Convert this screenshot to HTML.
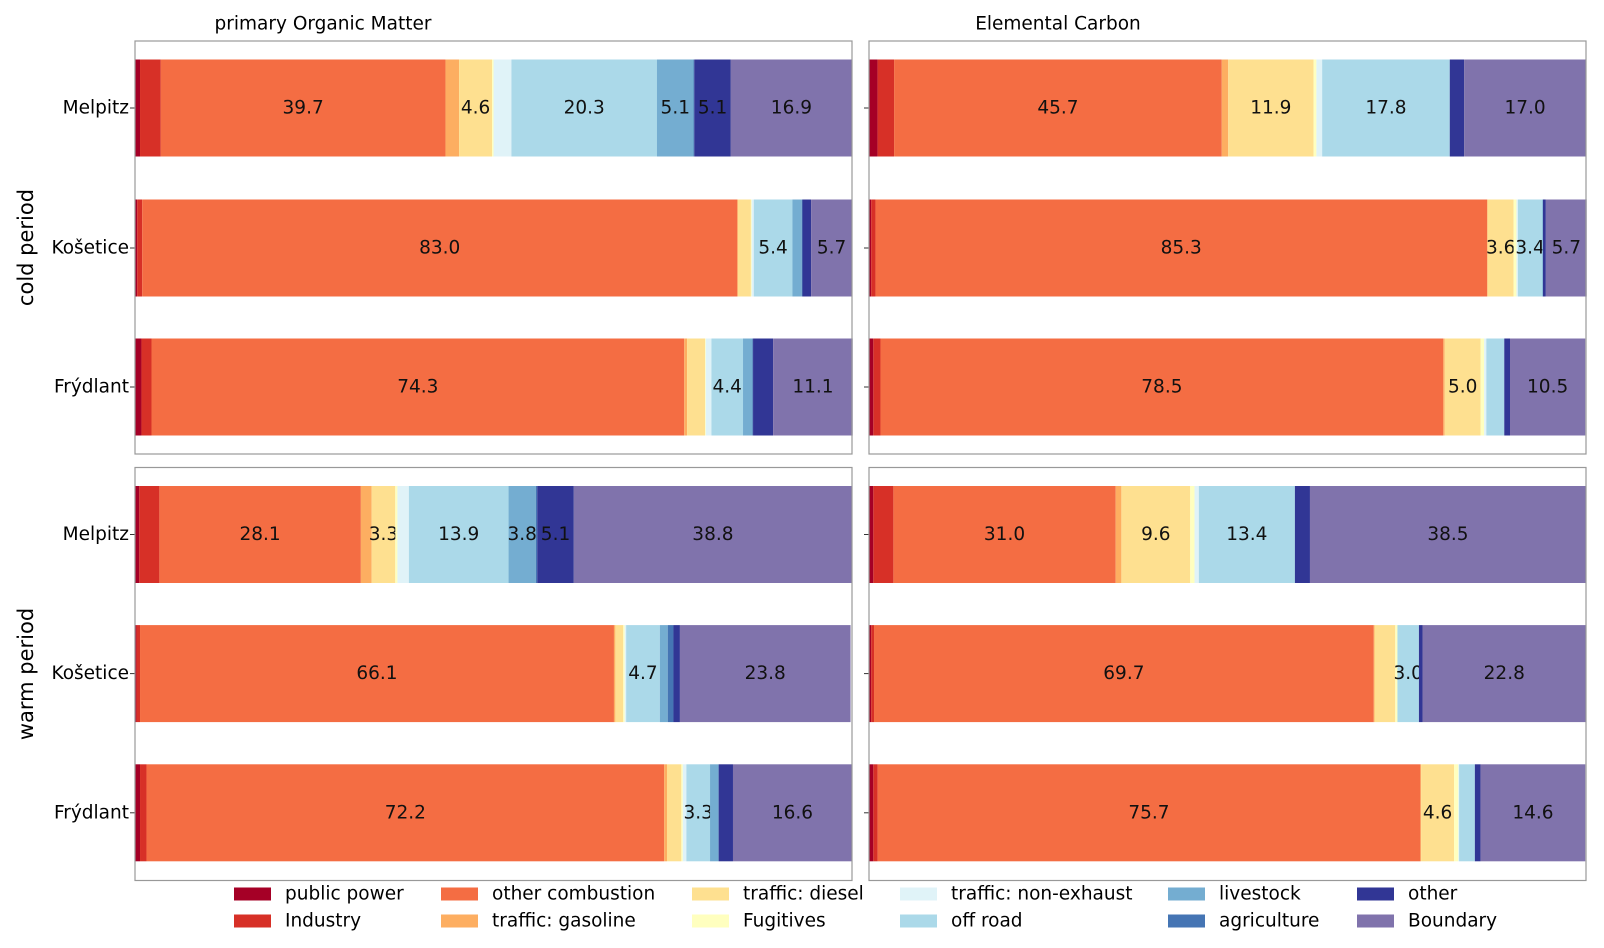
<!DOCTYPE html>
<html><head><meta charset="utf-8"><style>
html,body{margin:0;padding:0;background:#fff;}
svg{display:block;font-family:"DejaVu Sans","Liberation Sans",sans-serif;}
</style></head><body>
<svg id="chart" width="1604" height="948" viewBox="0 0 1604 948" xmlns="http://www.w3.org/2000/svg"></svg>
<script>
const sources = ["public power","Industry","other combustion","traffic: gasoline","traffic: diesel","Fugitives","traffic: non-exhaust","off road","livestock","agriculture","other","Boundary"];
const colors = ["#a50026","#d73027","#f46d43","#fdae61","#fee090","#ffffbf","#e0f3f8","#abd9e9","#74add1","#4575b4","#313695","#8073ac"];
const sites = ["Melpitz","Košetice","Frýdlant"];
const periods = ["cold period","warm period"];
const species = ["primary Organic Matter","Elemental Carbon"];
const coldOM = [
 [0.7,2.9,39.7,1.9,4.6,0.2,2.5,20.3,5.1,0.1,5.1,16.9],
 [0.3,0.7,83.0,0.1,1.8,0.1,0.3,5.4,1.3,0.1,1.2,5.7],
 [0.9,1.4,74.3,0.4,2.5,0.1,0.8,4.4,1.3,0.1,2.8,11.1]];
const coldEC = [
 [1.2,2.3,45.7,0.9,11.9,0.4,0.8,17.8,0.0,0.0,2.0,17.0],
 [0.3,0.6,85.3,0.1,3.6,0.4,0.2,3.4,0.1,0.0,0.4,5.7],
 [0.6,1.0,78.5,0.2,5.0,0.5,0.3,2.5,0.0,0.0,0.8,10.5]];
const warmOM = [
 [0.6,2.8,28.1,1.5,3.3,0.3,1.6,13.9,3.8,0.2,5.1,38.8],
 [0.2,0.5,66.1,0.2,1.1,0.2,0.2,4.7,1.1,0.8,0.9,23.8],
 [0.7,0.9,72.2,0.4,2.0,0.2,0.5,3.3,1.2,0.0,2.0,16.6]];
const warmEC = [
 [0.6,2.8,31.0,0.8,9.6,0.6,0.6,13.4,0.0,0.0,2.1,38.5],
 [0.3,0.4,69.7,0.1,2.9,0.3,0.0,3.0,0.0,0.0,0.5,22.8],
 [0.6,0.6,75.7,0.1,4.6,0.6,0.1,2.2,0.0,0.0,0.8,14.6]];
const panelData = [[coldOM,coldEC],[warmOM,warmEC]];

const NS="http://www.w3.org/2000/svg";
const svg=document.getElementById('chart');
function mk(tag,attrs,parent){const e=document.createElementNS(NS,tag);for(const k in attrs)e.setAttribute(k,attrs[k]);(parent||svg).appendChild(e);return e;}
const panelX=[135,869], panelW=717;
const panelY=[41,467.5], panelH=413;
const barCenters=[[108,248,387],[534.5,673.6,812.8]];
const barH=97;
function xScale(col,v){return panelX[col]+v/100*panelW;}

for(let r=0;r<2;r++){
  const t=mk('text',{x:27,y:(panelY[r]+panelH/2),'font-size':21,'text-anchor':'middle','dominant-baseline':'middle',transform:`rotate(-90 27 ${panelY[r]+panelH/2})`,fill:'#000'});
  
  
  t.textContent=periods[r];
  for(let c=0;c<2;c++){
    const g=mk('g',{});
    
    
    for(let s=0;s<3;s++){
      const vals=panelData[r][c][s];
      let cum=0;
      const cy=barCenters[r][s];
      for(let k=0;k<vals.length;k++){
        const x0=xScale(c,cum), x1=xScale(c,cum+vals[k]);
        const rect=mk('rect',{x:x0,y:cy-barH/2,width:Math.max(0,x1-x0),height:barH,fill:colors[k]},g);
        
        
        if(vals[k]>=3){
          const lt=mk('text',{x:(x0+x1)/2,y:cy,'font-size':18.5,'text-anchor':'middle','dominant-baseline':'central',fill:'#111'},g);
          
          
          lt.textContent=vals[k].toFixed(1);
        }
        cum+=vals[k];
      }
      if(c===0){
        mk('line',{x1:panelX[0]-5,x2:panelX[0],y1:cy,y2:cy,stroke:'#333','stroke-width':1});
        const sl=mk('text',{x:129,y:cy,'font-size':18.5,'text-anchor':'end','dominant-baseline':'central',fill:'#000'});
        
        
        sl.textContent=sites[s];
      } else {
        mk('line',{x1:panelX[1]-5,x2:panelX[1],y1:cy,y2:cy,stroke:'#333','stroke-width':1});
      }
    }
    const fr=mk('rect',{x:panelX[c],y:panelY[r],width:panelW,height:panelH,fill:'none',stroke:'#999','stroke-width':1.2});
    
    
  }
}
const titleX=[323,1058];
for(let c=0;c<2;c++){
  const tt=mk('text',{x:titleX[c],y:24,'font-size':18.5,'text-anchor':'middle','dominant-baseline':'central',fill:'#000'});
  
  
  tt.textContent=species[c];
}
const legX=[234,441,692,900,1168,1357], legY=[894,921];
for(let k=0;k<sources.length;k++){
  const col=Math.floor(k/2), row=k%2;
  const sw=mk('rect',{x:legX[col],y:legY[row]-6.5,width:37,height:13,fill:colors[k]});
  
  
  const lt=mk('text',{x:legX[col]+51,y:legY[row],'font-size':18.5,'dominant-baseline':'central',fill:'#000'});
  
  
  lt.textContent=sources[k];
}
</script>
</body></html>
